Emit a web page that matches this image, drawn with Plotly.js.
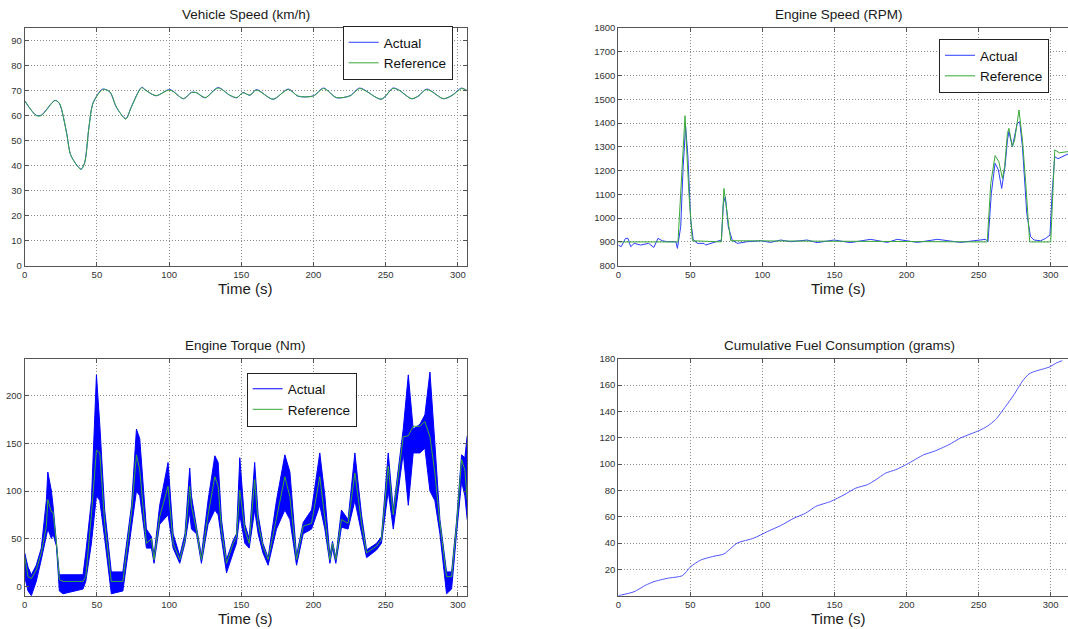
<!DOCTYPE html>
<html>
<head>
<meta charset="utf-8">
<script src="https://cdn.plot.ly/plotly-3.0.1.min.js"></script>
<style>html,body{margin:0;padding:0;background:#fff;}#chart{width:1068px;height:629px;}</style>
</head>
<body>
<div id="chart"></div>
<script>
// ---------- Vehicle speed (km/h) ----------
const tSpeed = [0,8,11.5,21,24,29,32,39,41.5,44.5,47.4,54,59,63.5,70,74,81,84,91,100.5,110,115.5,119,125,134,142,147,151,156,160.5,172,182.5,189.5,200,207,216,225.5,232,247,255,259,268,272.5,278.5,290,296,302.6,306.5];
const speedRef = [66,60,60,66,65,53,44,38.5,41,55.5,65,70.4,69.5,63.5,58.6,63.5,71.1,70,68,70.2,66.8,69.2,69.2,67.2,71,68.2,67.2,69.1,68.2,70.2,66.6,70.4,67.8,67.8,70.8,67.2,67.9,70.8,66.6,70.8,70.2,66.8,67.8,70.4,66.8,68,70.8,70];
const speedAct = [65.8,60.1,60.2,66.1,64.8,53.2,44.1,38.6,41.2,55.3,65.1,70.6,69.4,63.3,58.8,63.7,71.3,70.1,67.9,70.4,66.7,69.3,69.1,67.1,71.2,68.1,67.1,69.2,68.1,70.4,66.5,70.6,67.7,67.9,71,67.1,68,71,66.5,71,70.3,66.7,67.7,70.6,66.7,68.1,71,69.8];

// ---------- Engine speed (RPM) ----------
const tRpmRef = [0,41.4,46.3,49,51.4,71.5,73.3,78,256,258.4,261.4,264,266.5,268,270,271,273.4,275,278,280.4,282.7,285.4,300,301.5,302.8,306,312];
const rpmRef = [900,900,1431,1104,905,900,1125,905,900,1146,1263,1238,1167,1216,1357,1378,1301,1329,1455,1329,1146,900,900,1100,1287,1275,1280];
const tRpmAct = [0,2,5,6.7,8.6,11,15.5,21,24.7,27.5,30.5,34,40,41,43.3,45,46.7,48.3,50.2,52,55,59.5,60.6,64,71.5,72.9,74.3,76.3,79,82.6,89.5,98.8,105.7,112.7,119.6,131,138,149.7,161,175,179.7,186.7,193.6,200.5,207.5,221.4,228.3,237.6,246.8,255,256.5,258.8,261.4,263.7,266,268.3,270,271,273.4,276.8,278.5,280.4,283.4,286,288.5,293,296.5,299.5,301,302.8,305,312];
const rpmAct = [887,880,915,915,880,894,887,894,877,915,905,901,901,873,964,1217,1385,1259,992,908,894,894,887,894,908,1062,1090,964,908,894,901,905,898,908,901,908,897,908,897,911,905,898,911,905,898,911,905,898,905,911,901,1104,1231,1203,1125,1217,1329,1364,1301,1399,1406,1301,1020,922,908,905,915,929,1104,1259,1250,1270];

// ---------- Engine torque (Nm) ----------
const tTorque = [0,2.3,4.6,8,11.5,15,16,18.5,19.6,22,24,26.5,40.4,42.3,46.2,49.7,52,55.4,60,68,74,77.4,79.7,84.3,87.8,89.6,93.5,99.3,102.8,107.4,111,114.3,115.5,119,122.4,127,131.7,134,136.3,139.8,144.4,146.7,149,152.5,155.5,159.3,161.7,165,168.6,174.4,180.2,183.7,188.3,192.9,198.7,204.4,207.9,211.4,213.2,215.5,219.4,224,228.7,233.3,236.8,243.7,247.1,251.8,255.3,262.2,265.7,269.1,273.7,277.2,280.7,284.1,287.6,292.2,295.7,299.1,302.6,304.9,306.5];
const torqueRef = [31,10,8,17,35,63,91,78,78,45,7,5,5,10,75,143,140,66,5,5,78,138,122,45,50,28,73,105,45,28,49,105,84,59,28,75,115,105,59,24,45,52,101,59,45,112,66,42,28,73,115,94,28,63,66,115,73,28,45,28,70,66,119,66,35,42,49,126,75,157,158,168,168,173,157,119,66,10,10,63,133,122,91];
// upper / lower envelope of the noisy measured torque
const torqueActHi = [35,20,12,22,40,90,120,100,85,48,12,12,12,35,90,222,170,80,15,15,85,165,155,60,52,32,85,130,55,32,55,124,95,62,32,90,137,130,70,28,48,55,135,65,50,130,75,45,30,90,138,120,32,67,80,140,95,32,47,30,80,70,140,75,38,45,52,140,80,165,222,165,170,180,225,150,70,15,15,68,138,135,158];
const torqueActLo = [10,-5,-10,5,28,55,60,50,55,42,-5,-8,-3,5,45,95,90,50,-8,-5,60,100,95,40,40,24,65,75,40,24,45,78,60,55,24,65,80,75,50,14,35,45,75,45,40,80,55,35,22,60,80,70,22,55,60,85,60,24,40,24,62,60,90,55,30,38,45,100,60,140,85,140,140,145,100,90,55,-8,-3,55,110,95,70];

// ---------- Cumulative fuel (grams) ----------
const tFuel = [0,10.9,19,24.8,34,44.4,50.2,57,66.4,73.3,82.6,94,103.4,112.7,121.9,130,137,147.4,156.6,164.8,172.8,178.6,185.5,192.5,200.5,212,219,229.4,237.5,250.3,256,261.8,268.8,274.6,280.4,285,289.6,298.9,304.2,308];
const fuel = [0,3,8,10.7,13.2,15.2,22,27,30,31.7,40,43.7,48.7,53.3,58.9,62.7,67.8,71.6,76.6,81.7,84.3,88,93.1,95.7,100,107.1,109.6,114.7,119.8,125.4,128.7,133.8,143.9,152.8,163,168.5,170.6,173.6,176.9,178.5];

const xTicks = [0,50,100,150,200,250,300];
const fuelTicks = [20,40,60,80,100,120,140,160,180];

const BLUE = '#2a3cff', GREEN = '#38a838';
const FONT = 'Liberation Sans, Arial, sans-serif';

const traces = [
  {x: tSpeed, y: speedAct, name: 'Actual', mode: 'lines', line: {color: BLUE, width: 1, shape: 'spline', smoothing: 0.8}, xaxis: 'x', yaxis: 'y', legend: 'legend'},
  {x: tSpeed, y: speedRef, name: 'Reference', mode: 'lines', line: {color: GREEN, width: 1, shape: 'spline', smoothing: 0.8}, xaxis: 'x', yaxis: 'y', legend: 'legend'},

  {x: tRpmAct, y: rpmAct, name: 'Actual', mode: 'lines', line: {color: BLUE, width: 1}, xaxis: 'x2', yaxis: 'y2', legend: 'legend2'},
  {x: tRpmRef, y: rpmRef, name: 'Reference', mode: 'lines', line: {color: GREEN, width: 1}, xaxis: 'x2', yaxis: 'y2', legend: 'legend2'},

  {x: tTorque, y: torqueActLo, name: 'Actual', mode: 'lines', line: {color: '#0000ff', width: 1}, xaxis: 'x3', yaxis: 'y3', legend: 'legend3'},
  {x: tTorque, y: torqueActHi, name: 'Actual', showlegend: false, mode: 'lines', fill: 'tonexty', fillcolor: '#0000ff', line: {color: '#0000ff', width: 1}, xaxis: 'x3', yaxis: 'y3', legend: 'legend3'},
  {x: tTorque, y: torqueRef, name: 'Reference', mode: 'lines', line: {color: GREEN, width: 1}, xaxis: 'x3', yaxis: 'y3', legend: 'legend3'},

  {x: tFuel, y: fuel, name: 'Fuel', showlegend: false, mode: 'lines', line: {color: '#4d55ff', width: 1, shape: 'spline', smoothing: 0.6}, xaxis: 'x4', yaxis: 'y4'}
];

function ax(extra) {
  return Object.assign({
    showline: true, linecolor: '#555', linewidth: 1, mirror: 'ticks',
    ticks: 'inside', ticklen: 4, tickcolor: '#555',
    showgrid: true, gridcolor: '#8c8c8c', griddash: '1px,2px', gridwidth: 1,
    zeroline: false, fixedrange: true,
    tickfont: {family: FONT, size: 9.5, color: '#333'}
  }, extra);
}

const W = 1068, H = 629;
const xL = [24.7 / W, 467.2 / W], xR = [618.3 / W, 1];
const yT = [1 - 265.7 / H, 1 - 28 / H], yB = [1 - 595.7 / H, 1 - 358.7 / H];

function ann(text, x, y, size) {
  return {text: text, x: x / W, y: 1 - y / H, xref: 'paper', yref: 'paper', xanchor: 'center', yanchor: 'middle', showarrow: false, font: {family: FONT, size: size, color: '#1a1a1a'}};
}

const legendBase = {xref: 'paper', yref: 'paper', xanchor: 'left', yanchor: 'middle', traceorder: 'normal', bgcolor: '#fff', bordercolor: '#222', borderwidth: 1, font: {family: FONT, size: 13.5, color: '#111'}, itemwidth: 30, tracegroupgap: 0};

const layout = {
  width: W, height: H,
  margin: {l: 0, r: 0, t: 0, b: 0},
  paper_bgcolor: '#fff', plot_bgcolor: '#fff',
  showlegend: true,
  xaxis: ax({domain: xL, range: [0, 306.5], anchor: 'y', tickvals: xTicks}),
  yaxis: ax({domain: yT, range: [0, 95], anchor: 'x', dtick: 10}),
  xaxis2: ax({domain: xR, range: [0, 312], anchor: 'y2', tickvals: xTicks}),
  yaxis2: ax({domain: yT, range: [800, 1800], anchor: 'x2', dtick: 100, mirror: false}),
  xaxis3: ax({domain: xL, range: [0, 306.5], anchor: 'y3', tickvals: xTicks}),
  yaxis3: ax({domain: yB, range: [-10, 239], anchor: 'x3', tickvals: [0, 50, 100, 150, 200]}),
  xaxis4: ax({domain: xR, range: [0, 312], anchor: 'y4', tickvals: xTicks}),
  yaxis4: ax({domain: yB, range: [0, 180], anchor: 'x4', tickvals: fuelTicks, mirror: false}),
  legend: Object.assign({}, legendBase, {x: 342.7 / W, y: 1 - 53 / H}),
  legend2: Object.assign({}, legendBase, {x: 939 / W, y: 1 - 66 / H}),
  legend3: Object.assign({}, legendBase, {x: 246.7 / W, y: 1 - 399.5 / H}),
  annotations: [
    ann('Vehicle Speed (km/h)', 246, 14.5, 13.5),
    ann('Engine Speed (RPM)', 839, 14.5, 13.5),
    ann('Engine Torque (Nm)', 245, 345, 13.5),
    ann('Cumulative Fuel Consumption (grams)', 839, 345, 13.5),
    ann('Time (s)', 244.7, 288, 15),
    ann('Time (s)', 837.8, 288, 15),
    ann('Time (s)', 244.7, 618.3, 15),
    ann('Time (s)', 837.8, 618.3, 15)
  ]
};

Plotly.newPlot('chart', traces, layout, {displayModeBar: false, staticPlot: true});
</script>
</body>
</html>
